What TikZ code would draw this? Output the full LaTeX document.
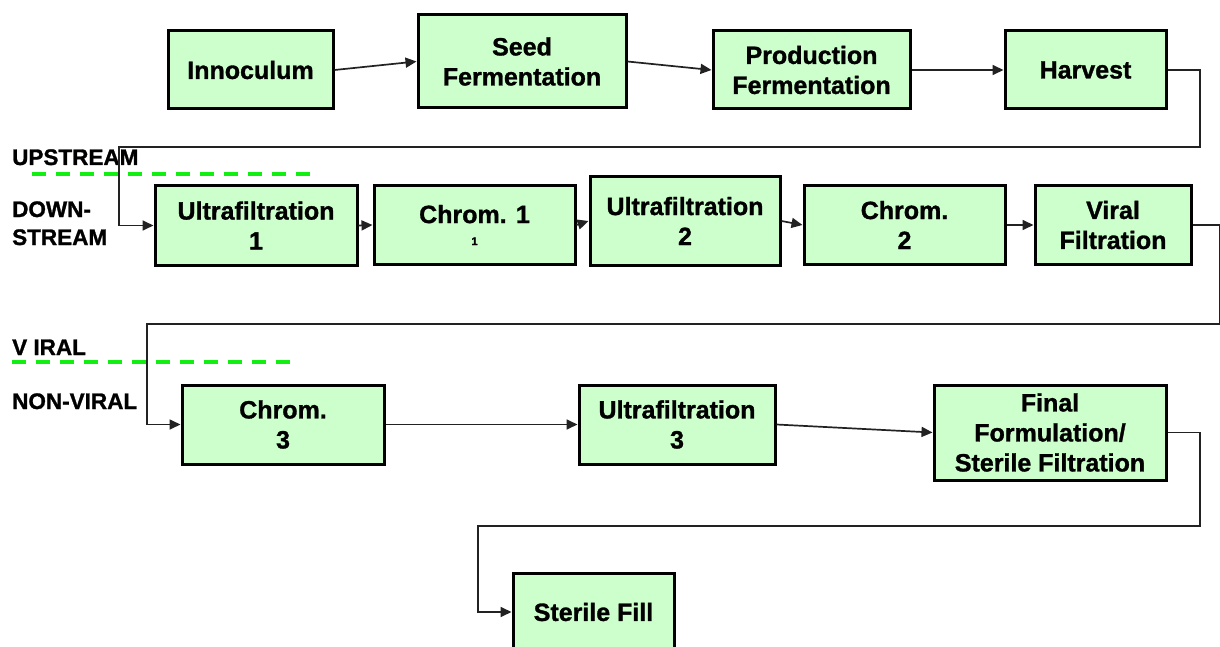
\documentclass[tikz,border=0pt]{standalone}
\usepackage{fontspec}
\setmainfont{Liberation Sans}[BoldFeatures={FakeBold=1.2}]
\usetikzlibrary{arrows.meta}
\definecolor{boxfill}{HTML}{CCFFCC}
\definecolor{dashgreen}{HTML}{11EE11}
\definecolor{linegray}{HTML}{222222}
\begin{document}
\begin{tikzpicture}[x=1pt,y=-1pt,
  procbox/.style={draw=black, line width=3pt, fill=boxfill, inner sep=0pt, align=center,
                  font=\fontsize{25}{30}\selectfont\bfseries},
  flow/.style={draw=linegray, line width=1.7pt, -{Triangle[length=11pt,width=10pt]}},
  plain/.style={draw=linegray, line width=1.7pt},
  lbl/.style={anchor=base west, inner sep=0pt, font=\fontsize{22.5}{28}\selectfont\bfseries},
  divider/.style={draw=dashgreen, line width=4pt, dash pattern=on 14pt off 10pt}]
\useasboundingbox (0,0) rectangle (1220,647);

% row 1
\node[procbox, minimum width=165pt, minimum height=78pt] (inn) at (250.5,70) {Innoculum};
\node[procbox, minimum width=208pt, minimum height=93pt] (seed) at (522,61.5) {Seed\\Fermentation};
\node[procbox, minimum width=197pt, minimum height=78pt] (prod) at (811.5,70) {Production\\Fermentation};
\node[procbox, minimum width=161pt, minimum height=78pt] (harv) at (1085.5,70) {Harvest};

% row 2
\node[procbox, minimum width=202pt, minimum height=79pt] (uf1) at (256,225.5) {Ultrafiltration\\1};
\node[procbox, minimum width=201pt, minimum height=78pt] (chr1) at (474.5,225) {Chrom. 1\\[-8pt]{\fontsize{11}{11}\selectfont 1}};
\node[procbox, minimum width=190pt, minimum height=88pt] (uf2) at (685,221) {Ultrafiltration\\2};
\node[procbox, minimum width=201pt, minimum height=78pt] (chr2) at (904.5,225) {Chrom.\\2};
\node[procbox, minimum width=156pt, minimum height=78pt] (vir) at (1113,225) {Viral\\Filtration};

% row 3
\node[procbox, minimum width=202pt, minimum height=79pt] (chr3) at (283,424.5) {Chrom.\\3};
\node[procbox, minimum width=196pt, minimum height=79pt] (uf3) at (677,424.5) {Ultrafiltration\\3};
\node[procbox, minimum width=232pt, minimum height=95pt] (fin) at (1050,432.5) {Final\\Formulation/\\Sterile Filtration};

% row 4
\node[procbox, minimum width=161pt, minimum height=78pt] (fill) at (593.5,612) {Sterile Fill};

% labels
\node[lbl] (up) at (12,165) {UPSTREAM};
\node[lbl] (down1) at (12,217) {DOWN-};
\node[lbl] (down2) at (12,245) {STREAM};
\node[lbl] (vl) at (12,355) {V IRAL};
\node[lbl] (nv) at (12,409) {NON-VIRAL};

% dividers
\coordinate (d1a) at (32,174);
\coordinate (d1b) at (318,174);
\coordinate (d2a) at (12,362);
\coordinate (d2b) at (295,362);
\draw[divider] (d1a) -- (d1b);
\draw[divider] (d2a) -- (d2b);

% routing points
\coordinate (r1) at (1200,147);
\coordinate (r2) at (119,147);
\coordinate (r3) at (1220,225);
\coordinate (r4) at (1220,324);
\coordinate (r5) at (147,324);
\coordinate (r6) at (1200,526);
\coordinate (r7) at (478,526);

% connectors
\draw[flow] (inn.east) -- (seed.west);
\draw[flow] (seed.east) -- (prod.west);
\draw[flow] (prod.east) -- (harv.west);
\draw[flow] (harv.east) -| (r1) -- (r2) |- (uf1.west);
\draw[flow] (uf1.east) -- (chr1.west);
\draw[flow] (chr1.east) -- (uf2.west);
\draw[flow] (uf2.east) -- (chr2.west);
\draw[flow] (chr2.east) -- (vir.west);
\draw[plain] (vir.east) -- (r3) -- (r4);
\draw[flow] (r4) -- (r5) |- (chr3.west);
\draw[flow] (chr3.east) -- (uf3.west);
\draw[flow] (uf3.east) -- (fin.west);
\draw[flow] (fin.east) -| (r6) -- (r7) |- (fill.west);
\end{tikzpicture}
\end{document}
